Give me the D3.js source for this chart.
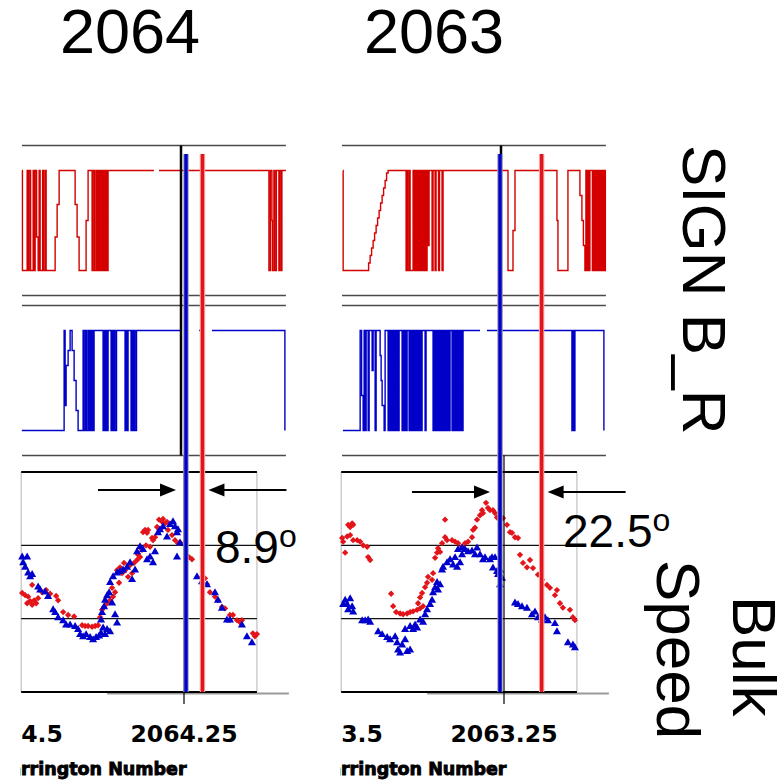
<!DOCTYPE html>
<html>
<head>
<meta charset="utf-8">
<script src="https://cdn.jsdelivr.net/npm/d3@7"></script>
<style>
  html, body { margin: 0; padding: 0; background: #fff; }
  svg { display: block; }
</style>
</head>
<body>
<svg id="chart" width="780" height="782"></svg>
<script>
// ---------------- data ----------------
// Two Carrington rotations, shown side by side.
const titles = ["2064", "2063"];
const rotations = [2064, 2063];
// tick marks on the Carrington-number axis, as the fractional part of the rotation
const tickPhases = [0.5, 0.25];
// angular separation (deg) between the blue and red marker lines
const separationDeg = [8.9, 22.5];
// phase of the blue marker line
const blueLinePhase = [0.247, 0.256];
// phase of the black marker in the sign panels
const signNowPhase = [0.2545, 0.2545];
// bulk speed grid values (km/s)
const speedGrid = [400, 500];

// SIGN B_R time series: [phase, sign]  (null = data gap)
const signRed2064 = [
  [0.4932,1],[0.4926,-1],
  [0.4855,1],[0.484,-1],[0.4825,1],[0.4803,-1],
  [0.4765,1],[0.475,-1],[0.4735,1],[0.4713,-0.33],[0.469,-1],
  [0.4675,1],[0.466,-1],[0.4623,1],[0.4608,-1],[0.4585,1],[0.457,-1],
  [0.4435,-0.33],[0.4405,0.32],[0.4375,1],
  [0.4135,0.32],[0.4105,-0.33],[0.4075,-1],
  [0.397,0],[0.394,1],
  [0.388,-1],[0.3865,1],[0.3843,-1],[0.382,1],
  [0.3805,-1],[0.379,1],[0.3775,-1],[0.376,1],[0.3745,-1],[0.373,1],
  [0.3715,-1],[0.37,1],[0.3685,-1],[0.367,1],[0.3655,-1],[0.364,1],
  [0.295,1],[0.2949,null],[0.2875,1],
  [0.1225,-1],[0.1203,1],[0.118,0],[0.1173,-1],[0.115,1],[0.1135,-1],
  [0.1113,1],[0.1075,-1],[0.106,1],[0.1038,-1],[0.103,1],[0.097,1]
];
const signBlue2064 = [
  [0.4935,-1],[0.43,1],[0.4285,-0.5],[0.427,0.3],[0.424,0.6],[0.421,1],
  [0.418,0.6],[0.415,0],[0.412,-0.6],[0.409,-1],
  [0.4015,1],[0.4,-1],[0.3978,1],[0.3963,-1],
  [0.394,1],[0.3925,-1],[0.391,1],[0.3895,-1],[0.388,1],[0.3865,-1],[0.385,1],
  [0.3715,-1],[0.37,1],[0.3685,-1],[0.367,1],[0.3655,-1],[0.364,1],
  [0.3595,-1],[0.358,1],[0.3565,-1],[0.355,1],[0.3535,-1],[0.3513,1],
  [0.3385,-1],[0.337,1],[0.3355,-1],[0.334,1],
  [0.3295,-1],[0.328,1],[0.3265,-1],[0.325,1],[0.3235,-1],[0.3213,1],
  [0.253,1],[0.2529,null],[0.2275,1],[0.2245,1],[0.2244,null],[0.208,1],[0.0985,-1]
];
const signRed2063 = [
  [0.4918,1],[0.4915,-1],
  [0.4555,-1],[0.4533,-0.85],[0.451,-0.7],[0.4488,-0.55],[0.4465,-0.4],[0.4443,-0.25],
  [0.442,-0.1],[0.4398,0.05],[0.4375,0.2],[0.4353,0.35],[0.433,0.5],[0.4308,0.65],
  [0.4285,0.8],[0.4263,0.95],[0.424,1],
  [0.397,-1],[0.3955,1],[0.394,-1],[0.3918,1],[0.391,-1],
  [0.3865,1],[0.385,-1],[0.3835,1],[0.382,-1],[0.3805,1],[0.379,-1],[0.3775,1],
  [0.376,-1],[0.3745,1],[0.373,-1],[0.3715,1],[0.37,-1],[0.3685,1],[0.367,-1],
  [0.3655,1],[0.364,-0.5],[0.3625,1],
  [0.358,-1],[0.3565,1],[0.3535,-1],[0.352,1],[0.3483,-1],[0.3468,1],[0.343,-1],[0.3415,1],
  [0.244,-1],[0.2365,-0.2],[0.2335,1],
  [0.1705,0],[0.169,-1],[0.154,1],
  [0.136,0.5],[0.133,0],[0.1308,-0.5],[0.1285,-1],[0.127,1],[0.1255,-1],[0.124,1],
  [0.1225,-1],[0.121,1],
  [0.1173,-1],[0.1158,1],[0.1143,-1],[0.1128,1],[0.1113,-1],[0.1098,1],[0.1083,-1],
  [0.1068,1],[0.1053,-1],[0.1038,1],[0.1023,-1],[0.1008,1],[0.0993,-1],[0.0978,1],[0.097,1]
];
const signBlue2063 = [
  [0.4918,-1],[0.466,1],[0.4638,-0.3],[0.4615,-1],[0.46,1],[0.4585,-1],[0.457,1],
  [0.454,-1],[0.4525,1],[0.448,0.2],[0.4465,1],[0.4435,-1],[0.442,1],
  [0.436,0.5],[0.4345,0],[0.433,-0.5],[0.43,-1],
  [0.4285,1],[0.424,-1],[0.4225,1],[0.421,-1],[0.4195,1],[0.418,-1],[0.4165,1],
  [0.415,-1],[0.4135,1],[0.412,-1],[0.4105,1],[0.409,-1],[0.4075,1],
  [0.403,-1],[0.4015,1],[0.4,-1],[0.3985,1],[0.397,-1],[0.3955,1],
  [0.3925,-1],[0.391,1],[0.3895,-1],[0.388,1],[0.3865,-1],[0.385,1],[0.3835,-1],
  [0.382,1],[0.3805,-1],[0.379,1],[0.3775,-1],[0.376,1],[0.3745,-1],[0.373,1],
  [0.3685,-1],[0.367,1],
  [0.3565,-1],[0.355,1],[0.3535,-1],[0.352,1],[0.3505,-1],[0.349,1],[0.3475,-1],
  [0.346,1],[0.3445,-1],[0.343,1],[0.3415,-1],[0.34,1],[0.3385,-1],[0.337,1],
  [0.3355,-1],[0.334,1],[0.3325,-1],[0.331,1],
  [0.328,-1],[0.3265,1],[0.325,-1],[0.3235,1],[0.322,-1],[0.3205,1],[0.319,-1],
  [0.3175,1],[0.316,-1],[0.3145,1],[0.313,-1],[0.3115,1],
  [0.286,1],[0.2859,null],[0.2755,1],
  [0.148,-1],[0.1465,1],[0.145,-1],[0.1435,1],
  [0.1,-1]
];

// Bulk speed samples: [phase, km/s]
const speedRed2064 = [
  [0.493,435],[0.4885,432],[0.484,430],[0.481,424],[0.478,419],[0.475,425],[0.472,421],
  [0.469,428],[0.4855,421],[0.478,446],[0.463,436],[0.457,439],[0.451,434],[0.442,431],
  [0.439,425],[0.4315,409],[0.424,405],[0.415,403],[0.403,391],[0.3985,390],[0.394,390],
  [0.388,389],[0.3835,390],[0.379,391],[0.376,402],[0.373,412],[0.37,416],[0.3655,421],
  [0.361,425],[0.3565,430],[0.3535,436],[0.3505,466],[0.346,470],[0.343,462],[0.34,476],
  [0.3385,466],[0.334,457],[0.328,462],[0.325,476],[0.3205,480],[0.316,484],[0.313,494],
  [0.3115,518],[0.3085,521],[0.3055,517],[0.304,521],[0.301,498],[0.298,510],[0.2965,507],
  [0.2935,511],[0.2905,525],[0.2875,535],[0.283,532],[0.2815,536],[0.2785,530],[0.2755,532],
  [0.274,521],[0.268,514],[0.2635,507],[0.259,503],[0.256,504],[0.2425,484],[0.238,481],
  [0.223,457],[0.2185,455],[0.2155,447],[0.211,436],[0.2035,430],[0.199,425],[0.193,416],
  [0.1885,414],[0.181,405],[0.1765,405],[0.1705,398],[0.166,395],[0.163,398],[0.1465,380],
  [0.1435,376],[0.1405,379],[0.358,442],[0.3475,449],[0.331,473],[0.319,487],[0.307,500],
  [0.286,521]
];
const speedBlue2064 = [
  [0.493,484],[0.4915,476],[0.4885,470],[0.4855,484],[0.484,462],[0.481,457],[0.478,460],
  [0.469,443],[0.466,439],[0.4585,436],[0.454,430],[0.4465,412],[0.4435,408],[0.439,401],
  [0.4315,397],[0.427,391],[0.421,391],[0.4135,389],[0.409,385],[0.406,378],[0.4015,375],
  [0.397,378],[0.391,374],[0.3865,371],[0.382,374],[0.3775,376],[0.3745,380],[0.3715,387],
  [0.3685,378],[0.3655,385],[0.361,382],[0.3745,398],[0.373,408],[0.37,416],[0.3685,425],
  [0.3655,431],[0.3625,435],[0.358,421],[0.3535,405],[0.3505,394],[0.361,449],[0.3565,457],
  [0.3505,462],[0.346,464],[0.3415,466],[0.3355,470],[0.331,476],[0.328,453],[0.3235,466],
  [0.3205,491],[0.316,498],[0.3115,494],[0.3055,480],[0.301,484],[0.2965,476],[0.2935,491],
  [0.289,517],[0.286,521],[0.2815,525],[0.2755,511],[0.271,528],[0.2665,532],[0.2635,525],
  [0.2605,517],[0.259,521],[0.256,503],[0.2605,484],[0.2305,457],[0.223,450],[0.2155,446],
  [0.2035,435],[0.199,425],[0.193,414],[0.1855,398],[0.181,398],[0.163,391],[0.1555,375],
  [0.148,367]
];
const speedRed2063 = [
  [0.493,510],[0.4915,505],[0.4885,490],[0.4855,512],[0.484,528],[0.481,525],[0.478,530],
  [0.4765,528],[0.481,514],[0.4765,507],[0.4705,507],[0.466,505],[0.4615,500],[0.4555,498],
  [0.454,484],[0.451,480],[0.4195,434],[0.4165,417],[0.412,409],[0.406,407],[0.4015,406],
  [0.3955,407],[0.391,409],[0.3865,410],[0.3805,412],[0.376,414],[0.3715,417],[0.379,421],
  [0.376,429],[0.373,435],[0.3685,443],[0.3655,449],[0.364,457],[0.358,453],[0.3565,462],
  [0.3535,483],[0.3505,490],[0.349,496],[0.346,491],[0.343,503],[0.3385,511],[0.3355,507],
  [0.328,507],[0.3235,505],[0.319,503],[0.3385,535],[0.313,498],[0.3085,503],[0.304,505],
  [0.298,511],[0.2965,521],[0.2935,524],[0.2905,535],[0.286,541],[0.283,548],[0.2815,544],
  [0.277,558],[0.274,551],[0.271,548],[0.2665,548],[0.2635,544],[0.2605,538],[0.2515,537],
  [0.2455,528],[0.241,518],[0.238,517],[0.2335,511],[0.229,510],[0.226,487],[0.2215,476],
  [0.2155,470],[0.211,480],[0.2065,469],[0.199,460],[0.193,453],[0.1855,446],[0.181,442],
  [0.1735,432],[0.1705,439],[0.166,421],[0.1615,415],[0.151,412],[0.1465,402],[0.1435,398]
];
const speedBlue2063 = [
  [0.4915,419],[0.4885,425],[0.4855,419],[0.484,412],[0.481,427],[0.478,416],[0.4765,409],
  [0.463,397],[0.4585,397],[0.454,398],[0.451,395],[0.439,382],[0.433,378],[0.4255,374],
  [0.421,371],[0.4135,375],[0.4105,367],[0.409,357],[0.406,353],[0.403,364],[0.3985,371],
  [0.3955,355],[0.391,357],[0.3985,385],[0.391,389],[0.3865,385],[0.3835,391],[0.3805,387],
  [0.376,398],[0.3715,395],[0.3685,405],[0.3655,412],[0.361,419],[0.358,425],[0.3565,435],
  [0.3535,442],[0.3505,449],[0.349,439],[0.346,446],[0.343,466],[0.3415,470],[0.3355,476],
  [0.331,480],[0.3265,473],[0.3235,483],[0.3205,470],[0.316,476],[0.313,487],[0.319,494],
  [0.313,496],[0.3085,494],[0.304,491],[0.298,492],[0.2935,487],[0.2905,496],[0.286,487],
  [0.2815,480],[0.2785,483],[0.271,480],[0.2665,469],[0.2605,464],[0.256,466],[0.268,483],
  [0.2635,483],[0.259,460],[0.253,455],[0.256,446],[0.2335,421],[0.229,419],[0.223,416],
  [0.2155,414],[0.208,405],[0.2035,409],[0.199,401],[0.193,398],[0.1885,401],[0.184,397],
  [0.1735,393],[0.1705,382],[0.154,367],[0.1465,364],[0.1435,360]
];

// ---------------- layout ----------------
const svg = d3.select("#chart");
const FONT = "'Liberation Sans', Arial, sans-serif";
const colOffset = [0, 320];
const titleX = [130, 434];
const sepLabelAt = [[215, 563], [563, 547]];
const arrowY = [490, 492];
const signSpan = [0.4932, 0.097];     // horizontal extent of the sign panels
const speedSpan = [0.4945, 0.1405];   // horizontal extent of the speed frame
const baseSpan = [0.3655, 0.0925];    // grey base rule under the speed frame

const ySignRed = d3.scaleLinear().domain([-1.5, 1.5]).range([295.5, 145.5]);
const ySignBlue = d3.scaleLinear().domain([-1.5, 1.5]).range([455.5, 305.5]);
const ySpeed = d3.scaleLinear().domain([300, 600]).range([692, 472]);

const RED = "#e3141a", BLUE = "#0000cc", SIGN_RED = "#d40000", SIGN_BLUE = "#0000c8";

const columns = titles.map((t, i) => ({
  title: t,
  rot: rotations[i],
  off: colOffset[i],
  signRed: [signRed2064, signRed2063][i],
  signBlue: [signBlue2064, signBlue2063][i],
  speedRed: [speedRed2064, speedRed2063][i],
  speedBlue: [speedBlue2064, speedBlue2063][i],
  sep: separationDeg[i],
  blue: blueLinePhase[i],
  now: signNowPhase[i]
}));

const defs = svg.append("defs");

columns.forEach((c, i) => {
  const x = d3.scaleLinear()
    .domain([c.rot + 0.5, c.rot + 0.25])
    .range([17.5 + c.off, 184 + c.off]);
  const X = p => x(c.rot + p);
  const g = svg.append("g");

  // title
  svg.append("text")
    .attr("x", titleX[i]).attr("y", 53)
    .attr("text-anchor", "middle")
    .attr("font-family", FONT).attr("font-size", 63)
    .text(c.title);

  // ---- sign panels ----
  [[ySignRed, c.signRed, SIGN_RED], [ySignBlue, c.signBlue, SIGN_BLUE]].forEach(([ys, series, col]) => {
    [1.5, -1.5].forEach(v => {
      g.append("line")
        .attr("x1", X(signSpan[0])).attr("x2", X(signSpan[1]))
        .attr("y1", ys(v)).attr("y2", ys(v))
        .attr("stroke", "#4a4a4a").attr("stroke-width", 1.6);
    });
    const line = d3.line()
      .defined(d => d[1] !== null)
      .x(d => X(d[0]))
      .y(d => ys(d[1]))
      .curve(d3.curveStepAfter);
    g.append("path")
      .attr("d", line(series))
      .attr("fill", "none")
      .attr("stroke", col)
      .attr("stroke-width", 1.4);
  });

  // black marker through the sign panels
  g.append("line")
    .attr("x1", X(c.now)).attr("x2", X(c.now))
    .attr("y1", ySignRed(1.5)).attr("y2", ySignBlue(-1.5))
    .attr("stroke", "#000").attr("stroke-width", 2.5);

  // ---- bulk speed panel ----
  const fx0 = X(speedSpan[0]), fx1 = X(speedSpan[1]);
  [fx0, fx1].forEach(xx => {
    g.append("line")
      .attr("x1", xx).attr("x2", xx)
      .attr("y1", ySpeed.range()[1]).attr("y2", ySpeed.range()[0])
      .attr("stroke", "#b4b4b4").attr("stroke-width", 1);
  });
  g.append("line")
    .attr("x1", X(baseSpan[0])).attr("x2", X(baseSpan[1]))
    .attr("y1", ySpeed.range()[0] + 1.5).attr("y2", ySpeed.range()[0] + 1.5)
    .attr("stroke", "#9a9a9a").attr("stroke-width", 2);
  speedGrid.forEach(v => {
    g.append("line")
      .attr("x1", fx0).attr("x2", fx1)
      .attr("y1", ySpeed(v)).attr("y2", ySpeed(v))
      .attr("stroke", "#111").attr("stroke-width", 1.2);
  });
  ySpeed.domain().forEach(v => {
    g.append("line")
      .attr("x1", fx0).attr("x2", fx1)
      .attr("y1", ySpeed(v)).attr("y2", ySpeed(v))
      .attr("stroke", "#000").attr("stroke-width", 2);
  });

  const diamond = d3.symbol().type(d3.symbolSquare).size(20);
  const tri = d3.symbol().type(d3.symbolTriangle).size(28);
  g.append("g").selectAll("path").data(c.speedRed).join("path")
    .attr("d", diamond)
    .attr("transform", d => `translate(${X(d[0])},${ySpeed(d[1])}) rotate(45)`)
    .attr("fill", RED);
  g.append("g").selectAll("path").data(c.speedBlue).join("path")
    .attr("d", tri)
    .attr("transform", d => `translate(${X(d[0])},${ySpeed(d[1])})`)
    .attr("fill", BLUE);

  // ---- marker lines ----
  const xb = X(c.blue);
  const xr = X(c.blue - c.sep / 360);
  const xt = X(tickPhases[1]);
  g.append("line")
    .attr("x1", xt).attr("x2", xt)
    .attr("y1", ySignBlue(-1.5)).attr("y2", ySpeed.range()[0] + 12)
    .attr("stroke", "#000").attr("stroke-width", 1.2);
  [[xb, BLUE, "#a0a0b0"], [xr, RED, "#f4b0b0"]].forEach(([xx, col, halo]) => {
    g.append("line")
      .attr("x1", xx).attr("x2", xx).attr("y1", 154).attr("y2", ySpeed.range()[0])
      .attr("stroke", halo).attr("stroke-width", 5.5);
    g.append("line")
      .attr("x1", xx).attr("x2", xx).attr("y1", 154).attr("y2", ySpeed.range()[0])
      .attr("stroke", col).attr("stroke-width", 3.4);
  });

  // arrows pointing at the two marker lines
  function arrow(x1, x2, y) {
    const dir = Math.sign(x2 - x1);
    g.append("line")
      .attr("x1", x1).attr("x2", x2 - dir * 12)
      .attr("y1", y).attr("y2", y)
      .attr("stroke", "#000").attr("stroke-width", 2);
    g.append("path")
      .attr("d", `M${x2},${y}L${x2 - dir * 16},${y - 6.5}L${x2 - dir * 16},${y + 6.5}Z`)
      .attr("fill", "#000");
  }
  arrow(xb - 88, xb - 10, arrowY[i]);
  arrow(xr + 84, xr + 6, arrowY[i]);

  // separation label
  const lab = svg.append("text")
    .attr("x", sepLabelAt[i][0]).attr("y", sepLabelAt[i][1])
    .attr("font-family", FONT).attr("font-size", 46);
  lab.append("tspan").text(d3.format(".1f")(c.sep));
  lab.append("tspan").attr("font-size", 32).attr("dy", -16).text("o");

  // ---- axis labels (cropped at the left edge of the column) ----
  const clipId = "clip" + i;
  defs.append("clipPath").attr("id", clipId)
    .append("rect").attr("x", 20 + c.off).attr("y", 700).attr("width", 290).attr("height", 82);
  const lg = svg.append("g").attr("clip-path", `url(#${clipId})`);
  tickPhases.forEach(p => {
    lg.append("text")
      .attr("x", X(p)).attr("y", 742)
      .attr("text-anchor", "middle")
      .attr("font-family", "'DejaVu Sans', sans-serif")
      .attr("font-weight", "bold").attr("font-size", 23.5)
      .text(d3.format(".2~f")(c.rot + p));
  });
  lg.append("text")
    .attr("x", X(0.5) - 21.2).attr("y", 775)
    .attr("font-family", "'DejaVu Sans', sans-serif")
    .attr("font-weight", "bold").attr("font-size", 17.5)
    .attr("stroke", "#000").attr("stroke-width", 0.9)
    .text("Carrington Number");
});

// ---- panel names, rotated ----
function vlabel(text, x, y) {
  svg.append("text")
    .attr("transform", `translate(${x},${y}) rotate(90)`)
    .attr("font-family", FONT).attr("font-size", 62)
    .text(text);
}
vlabel("SIGN B_R", 683, 145);
vlabel("Bulk", 733, 596);
vlabel("Speed", 657, 560);
</script>
</body>
</html>
